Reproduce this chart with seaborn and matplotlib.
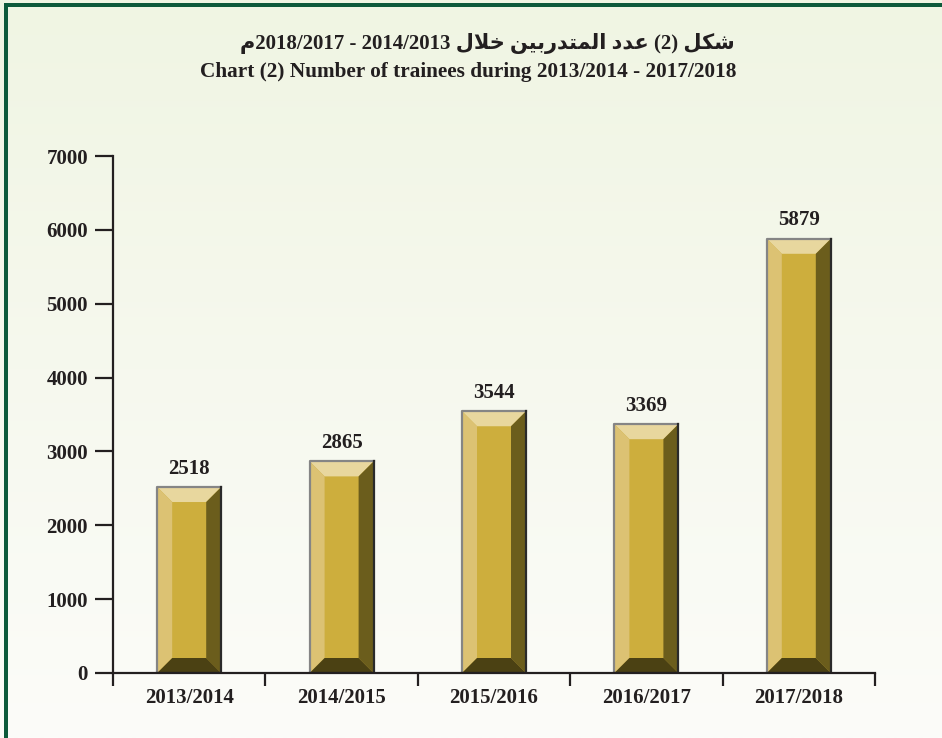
import numpy as np
import pandas as pd
import matplotlib
matplotlib.use("Agg")
import matplotlib.pyplot as plt
from matplotlib.patches import Polygon, Rectangle
import seaborn as sns

# date
ani = ["2013/2014", "2014/2015", "2015/2016", "2016/2017", "2017/2018"]
cursanti = [2518, 2865, 3544, 3369, 5879]
yticks = [0, 1000, 2000, 3000, 4000, 5000, 6000, 7000]

titlu_en = "Chart (2) Number of trainees during 2013/2014 - 2017/2018"
# arabic title written in visual order with presentation forms (no shaping engine available)
titlu_ar = ("\uFEE1" + "2018/2017 - 2014/2013 "
            + "\uFEDD\uFEFC\uFEA7" + " "
            + "\uFEE6\uFEF4\uFE91\uFEAD\uFEAA\uFE98\uFEE4\uFEDF\uFE8D" + " "
            + "\uFEA9\uFEAA\uFECB" + " (2) "
            + "\uFEDE\uFEDC\uFEB7")

c_centru = "#cdae3d"
c_sus = "#e8d79e"
c_stanga = "#dcc273"
c_dreapta = "#6b5d1c"
c_jos = "#4b4113"

df = pd.DataFrame({"An": ani, "Cursanti": cursanti})

W, H = 942, 738
fig = plt.figure(figsize=(W / 100, H / 100), dpi=100)

# fundal cu gradient
bg = fig.add_axes([0, 0, 1, 1], zorder=-10)
grad = np.linspace(0, 1, 256).reshape(-1, 1)
sus = np.array([0xf0, 0xf5, 0xe3]) / 255
jos = np.array([0xfc, 0xfc, 0xf9]) / 255
img = sus[None, None, :] * (1 - grad[:, :, None]) + jos[None, None, :] * grad[:, :, None]
bg.imshow(img, aspect="auto", extent=[0, 1, 0, 1], origin="upper")
bg.set_xlim(0, 1)
bg.set_ylim(0, 1)
bg.axis("off")
bg.add_patch(Rectangle((4 / W, 0), 4 / W, 1 - 3 / H, color="#0d5a3b", lw=0))
bg.add_patch(Rectangle((4 / W, 1 - 7 / H), 1, 4 / H, color="#0d5a3b", lw=0))

ax = fig.add_axes([113 / W, (H - 673) / H, (875 - 113) / W, (673 - 156) / H])
ax.patch.set_alpha(0)
sns.barplot(data=df, x="An", y="Cursanti", color=c_centru, width=0.42,
            saturation=1, ax=ax, zorder=3)

ax.set_xlim(-0.5, len(ani) - 0.5)
ax.set_ylim(0, 7000)
fig.canvas.draw()

# marimea bevel-ului in pixeli -> unitati de date
bb = ax.get_window_extent()
dx = 15 * (len(ani)) / bb.width
dy = 15 * 7000 / bb.height

for p in ax.patches:
    x0, w, h = p.get_x(), p.get_width(), p.get_height()
    x1 = x0 + w
    fete = [
        ([(x0, h), (x1, h), (x1 - dx, h - dy), (x0 + dx, h - dy)], c_sus),
        ([(x0, 0), (x0, h), (x0 + dx, h - dy), (x0 + dx, dy)], c_stanga),
        ([(x1, 0), (x1, h), (x1 - dx, h - dy), (x1 - dx, dy)], c_dreapta),
        ([(x0, 0), (x1, 0), (x1 - dx, dy), (x0 + dx, dy)], c_jos),
    ]
    for pts, col in fete:
        ax.add_patch(Polygon(pts, closed=True, facecolor=col, edgecolor="none", zorder=4))
    ax.plot([x0, x0, x1], [0, h, h], color="#858585", lw=1.6, zorder=5, solid_capstyle="projecting")
    ax.plot([x1, x1, x0], [h, 0, 0], color="#2a2a2a", lw=1.6, zorder=5)
    ax.annotate(f"{int(h)}", (x0 + w / 2, h), xytext=(0, 6), textcoords="offset points",
                ha="center", va="bottom", fontsize=15, fontweight="bold",
                family="Liberation Serif", color="#231f20")

sns.despine(ax=ax)
for s in ["left", "bottom"]:
    ax.spines[s].set_linewidth(1.6)
    ax.spines[s].set_color("#231f20")
    ax.spines[s].set_zorder(6)

ax.set_yticks(yticks)
ax.set_yticklabels([str(v) for v in yticks])
ax.tick_params(axis="y", length=13, width=1.6, pad=5, colors="#231f20")
ax.tick_params(axis="x", which="major", length=0, pad=11, colors="#231f20")
ax.set_xticks(np.arange(len(ani) + 1) - 0.5, minor=True)
ax.tick_params(axis="x", which="minor", length=9, width=1.6, color="#231f20")
for lab in ax.get_xticklabels() + ax.get_yticklabels():
    lab.set_family("Liberation Serif")
    lab.set_fontweight("bold")
    lab.set_fontsize(15)
ax.set_xlabel("")
ax.set_ylabel("")
ax.grid(False)

fig.text(0.517, 1 - 44 / H, titlu_ar, ha="center", va="center", fontsize=15,
         fontweight="bold", family=["Liberation Serif", "DejaVu Sans"], color="#231f20")
fig.text(0.497, 1 - 72 / H, titlu_en, ha="center", va="center", fontsize=15.3,
         fontweight="bold", family="Liberation Serif", color="#231f20")

fig.savefig("out.png", dpi=100)
